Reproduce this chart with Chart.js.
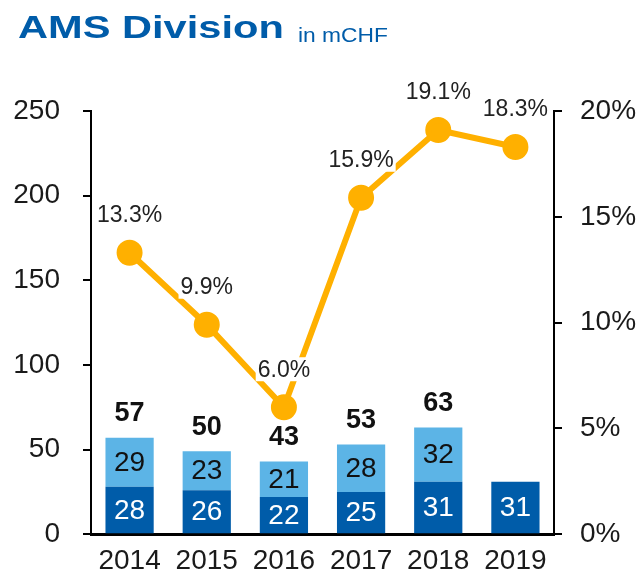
<!DOCTYPE html>
<html>
<head>
<meta charset="utf-8">
<script src="https://cdn.jsdelivr.net/npm/chart.js@4.4.1/dist/chart.umd.min.js"></script>
<style>
  html, body { margin: 0; padding: 0; background: #fff; }
  #wrap { position: relative; width: 641px; height: 574px; }
  #title { position: absolute; left: 18px; top: 9px; color: #005CA9; font-family: "Liberation Sans", Arial, sans-serif; white-space: nowrap; }
  #title .big { display: inline-block; font-size: 32px; font-weight: bold; transform: scaleX(1.3); transform-origin: left; }
  #title .small { position: absolute; left: 280px; top: 15px; font-size: 20px; transform: scaleX(1.14); transform-origin: left; }
  canvas { position: absolute; left: 0; top: 0; }
</style>
</head>
<body>
<div id="wrap">
  <canvas id="grafico" width="641" height="574"></canvas>
  <div id="title"><span class="big">AMS Division</span><span class="small">in mCHF</span></div>
</div>
<script>
var anos = ['2014', '2015', '2016', '2017', '2018', '2019'];
var parteEscura = [28, 26, 22, 25, 31, 31];
var parteClara = [29, 23, 21, 28, 32, null];
var totais = [57, 50, 43, 53, 63, null];
var margem = [13.3, 9.9, 6.0, 15.9, 19.1, 18.3];

var fonte = '"Liberation Sans", Arial, sans-serif';

// rotulos das barras e da linha
var rotulos = {
    id: 'rotulos',
    afterDatasetsDraw: function (chart) {
        var ctx = chart.ctx;
        var escura = chart.getDatasetMeta(0).data;
        var clara = chart.getDatasetMeta(1).data;
        var linha = chart.getDatasetMeta(2).data;
        ctx.save();
        ctx.textAlign = 'center';
        ctx.textBaseline = 'middle';

        ctx.font = '28px ' + fonte;
        escura.forEach(function (b, i) {
            ctx.fillStyle = '#ffffff';
            ctx.fillText(parteEscura[i], b.x, (b.y + b.base) / 2 + 1);
        });
        clara.forEach(function (b, i) {
            if (parteClara[i] == null) return;
            ctx.fillStyle = '#111111';
            ctx.fillText(parteClara[i], b.x, (b.y + b.base) / 2 + 1);
        });

        ctx.font = 'bold 27px ' + fonte;
        ctx.fillStyle = '#111111';
        clara.forEach(function (b, i) {
            if (totais[i] == null) return;
            ctx.fillText(totais[i], b.x, b.y - 24);
        });

        ctx.font = '23px ' + fonte;
        linha.forEach(function (p, i) {
            var txt = margem[i].toFixed(1) + '%';
            var w = ctx.measureText(txt).width;
            var y = p.y - 38;
            ctx.fillStyle = '#ffffff';
            ctx.fillRect(p.x - w / 2 - 2, y - 12, w + 4, 24);
            ctx.fillStyle = '#222222';
            ctx.fillText(txt, p.x, y + 1);
        });
        ctx.restore();
    }
};

var ctx = document.getElementById('grafico').getContext('2d');
var grafico = new Chart(ctx, {
    type: 'bar',
    data: {
        labels: anos,
        datasets: [{
            label: 'base',
            data: parteEscura,
            backgroundColor: '#005CA9',
            stack: 's',
            order: 2,
            barPercentage: 0.625,
            categoryPercentage: 1
        }, {
            label: 'topo',
            data: parteClara,
            backgroundColor: '#5CB4E6',
            stack: 's',
            order: 2,
            barPercentage: 0.625,
            categoryPercentage: 1
        }, {
            type: 'line',
            label: 'margem',
            data: margem,
            yAxisID: 'y1',
            borderColor: '#FFB000',
            backgroundColor: '#FFB000',
            borderWidth: 6,
            pointRadius: 10,
            pointHoverRadius: 10,
            order: 1
        }]
    },
    options: {
        responsive: false,
        animation: false,
        layout: { padding: { top: 111, left: 0, right: 0, bottom: 0 } },
        plugins: {
            legend: { display: false },
            tooltip: { enabled: false }
        },
        scales: {
            x: {
                stacked: true,
                grid: { display: false },
                border: { display: true, color: '#000', width: 3 },
                ticks: { color: '#1a1a1a', font: { family: fonte, size: 28 }, padding: 2 },
                afterFit: function (s) { s.height = 39; }
            },
            y: {
                stacked: true,
                min: 0,
                max: 250,
                position: 'left',
                grid: { drawOnChartArea: false, color: '#000', tickLength: 8, lineWidth: 2 },
                border: { display: true, color: '#000', width: 2 },
                ticks: { stepSize: 50, color: '#1a1a1a', font: { family: fonte, size: 28 }, padding: 23 },
                afterFit: function (s) { s.width = 91; }
            },
            y1: {
                min: 0,
                max: 20,
                position: 'right',
                grid: { drawOnChartArea: false, color: '#000', tickLength: 8, lineWidth: 2 },
                border: { display: true, color: '#000', width: 2 },
                ticks: {
                    stepSize: 5,
                    color: '#1a1a1a',
                    font: { family: fonte, size: 28 },
                    padding: 18,
                    callback: function (v) { return v + '%'; }
                },
                afterFit: function (s) { s.width = 87; }
            }
        }
    },
    plugins: [rotulos]
});
</script>
</body>
</html>
